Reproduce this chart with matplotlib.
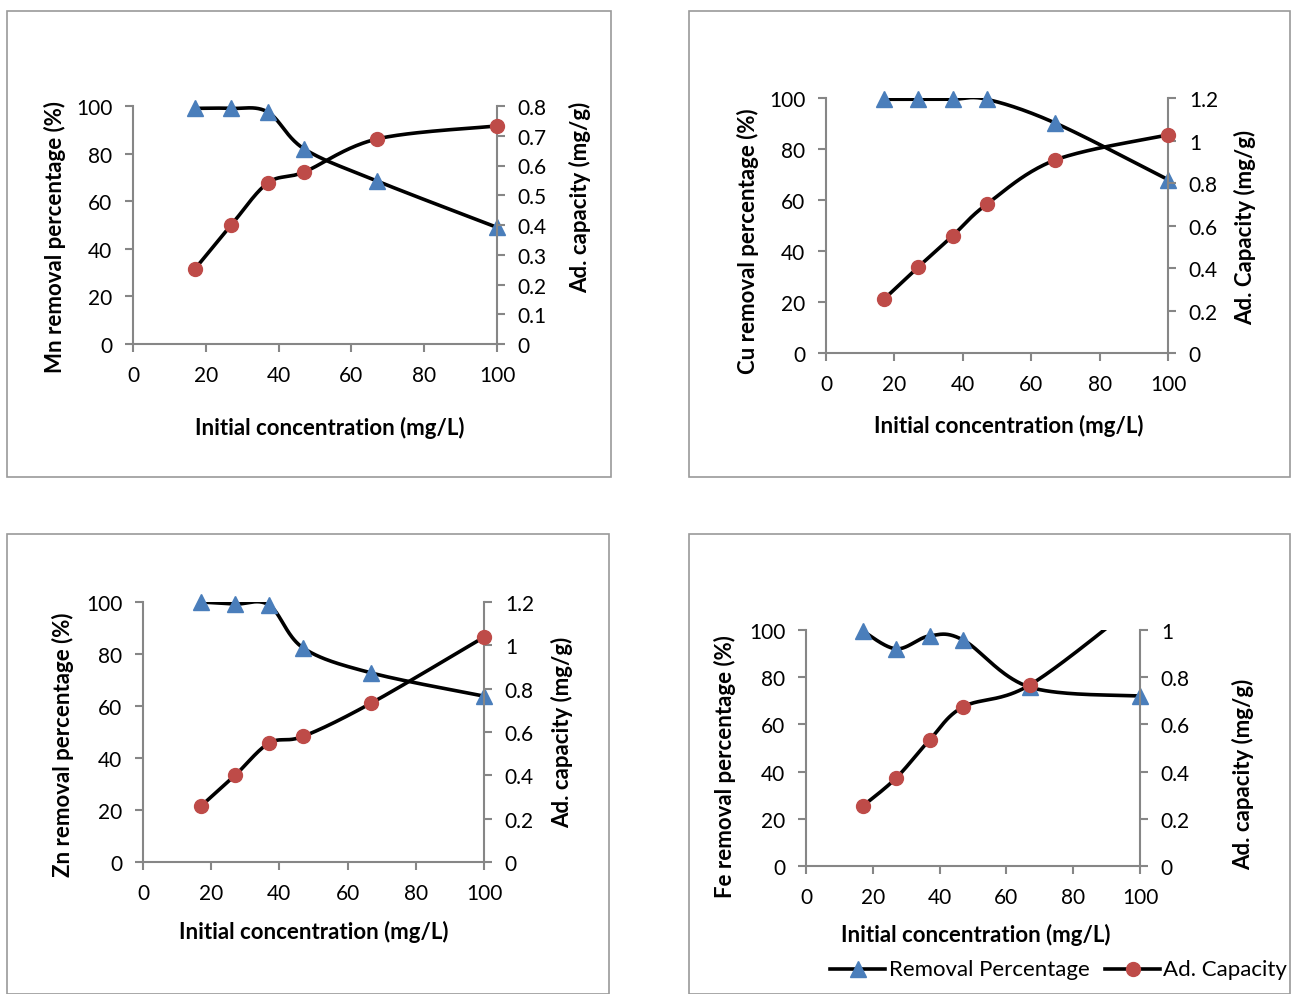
import numpy as np
import matplotlib
matplotlib.use("Agg")
import matplotlib.pyplot as plt
from matplotlib.patches import Rectangle
from matplotlib.lines import Line2D

plt.rcParams['font.family'] = ['Lato', 'DejaVu Sans']

conc = [17, 27, 37, 47, 67, 100]

mn_removal = [99, 99, 97.5, 82, 68.5, 49]
mn_capacity = [0.252, 0.40, 0.541, 0.578, 0.689, 0.733]

cu_removal = [99.5, 99.5, 99.5, 99.5, 90.2, 68]
cu_capacity = [0.254, 0.405, 0.551, 0.70, 0.908, 1.026]

zn_removal = [100, 99.2, 98.8, 82.3, 72.7, 63.8]
zn_capacity = [0.258, 0.40, 0.549, 0.58, 0.734, 1.038]

fe_removal = [99.6, 92, 97.5, 95.8, 75.8, 72]
fe_capacity = [0.254, 0.373, 0.534, 0.674, 0.767, 1.12]

x_ticks = [0, 20, 40, 60, 80, 100]
left_ticks = [0, 20, 40, 60, 80, 100]

x_title = 'Initial concentration (mg/L)'
legend_labels = ['Removal Percentage', 'Ad. Capacity']

BLUE = '#4A7EBB'
RED = '#BE4B48'
GREY = '#868686'
FS_TICK = 15
FS_LAB = 16
W, H = 1291, 995


def smooth(xs, ys, n=40):
    """Excel-like smoothed line (cubic Bezier through points)."""
    P = np.column_stack([xs, ys]).astype(float)
    m = len(P)
    out = []
    for i in range(m - 1):
        p0 = P[i - 1] if i > 0 else P[i]
        p1 = P[i]
        p2 = P[i + 1]
        p3 = P[i + 2] if i + 2 < m else P[i + 1]
        c1 = p1 + (p2 - p0) / 6.0
        c2 = p2 - (p3 - p1) / 6.0
        t = np.linspace(0, 1, n)[:, None]
        seg = ((1 - t) ** 3) * p1 + 3 * ((1 - t) ** 2) * t * c1 + 3 * (1 - t) * t ** 2 * c2 + t ** 3 * p2
        out.append(seg if i == 0 else seg[1:])
    out = np.vstack(out)
    return out[:, 0], out[:, 1]


def fx(px):
    return px / W


def fy(py):
    return 1 - py / H


fig = plt.figure(figsize=(12.91, 9.95), dpi=100)

# panel frames (pixels: x0, y0_top, x1, y1_bottom)
frames = [(7, 12, 611, 478), (689, 12, 1290, 478), (7, 535, 609, 995), (689, 535, 1290, 995)]
for (x0, y0, x1, y1) in frames:
    fig.add_artist(Rectangle((fx(x0), fy(y1)), (x1 - x0) / W, (y1 - y0) / H,
                             transform=fig.transFigure, fill=False, edgecolor='#9a9a9a', lw=1.2))

# axes rects in pixels: x(0), x(100), y top, y bottom
rects = [(133, 497, 107, 345), (826, 1168, 99, 354), (143, 484, 603, 863), (806, 1140, 631, 867)]
# title positions in pixels: ylabel (x, y), y2label (x, y), xlabel (x, y)
title_pos = [((55, 237), (580, 197), (330, 428)),
             ((748, 241), (1245, 227), (1009, 426)),
             ((63, 745), (562, 732), (314, 932)),
             ((725, 767), (1243, 774), (976, 935))]

panels = [
    ('Mn removal percentage (%)', 'Ad. capacity (mg/g)', mn_removal, mn_capacity,
     [0, 0.1, 0.2, 0.3, 0.4, 0.5, 0.6, 0.7, 0.8], 0.8),
    ('Cu removal percentage (%)', 'Ad. Capacity (mg/g)', cu_removal, cu_capacity,
     [0, 0.2, 0.4, 0.6, 0.8, 1.0, 1.2], 1.2),
    ('Zn removal percentage (%)', 'Ad. capacity (mg/g)', zn_removal, zn_capacity,
     [0, 0.2, 0.4, 0.6, 0.8, 1.0, 1.2], 1.2),
    ('Fe removal percentage (%)', 'Ad. capacity (mg/g)', fe_removal, fe_capacity,
     [0, 0.2, 0.4, 0.6, 0.8, 1.0], 1.0),
]

for (lx0, lx1, ty, by), tp, (ylab, y2lab, rem, cap, rticks, rmax) in zip(rects, title_pos, panels):
    ax = fig.add_axes([fx(lx0), fy(by), (lx1 - lx0) / W, (by - ty) / H])
    ax2 = ax.twinx()
    ax.set_xlim(0, 100)
    ax.set_ylim(0, 100)
    ax2.set_ylim(0, rmax)
    ax.set_xticks(x_ticks)
    ax.set_xticklabels([str(v) for v in x_ticks])
    ax.set_yticks(left_ticks)
    ax.set_yticklabels([str(v) for v in left_ticks])
    ax2.set_yticks(rticks)
    ax2.set_yticklabels(['%g' % v for v in rticks])
    for a in (ax, ax2):
        a.spines['top'].set_visible(False)
        for s in ['left', 'right', 'bottom']:
            a.spines[s].set_color(GREY)
            a.spines[s].set_linewidth(1.5)
        a.tick_params(colors=GREY, labelcolor='black', labelsize=FS_TICK, length=6, width=1.5, pad=9)
    ax.spines['right'].set_visible(False)
    ax2.spines['left'].set_visible(False)
    ax2.spines['bottom'].set_visible(False)

    sx, sy = smooth(conc, rem)
    ax.plot(sx, sy, color='black', lw=2.6, zorder=3)
    ax.plot(conc, rem, linestyle='none', marker='^', ms=11, color=BLUE, zorder=4, clip_on=False)
    cx, cy = smooth(conc, cap)
    ax2.plot(cx, cy, color='black', lw=2.6, zorder=3)
    cap_arr = np.array(cap, dtype=float)
    vis = np.where(cap_arr <= rmax, cap_arr, np.nan)
    ax2.plot(conc, vis, linestyle='none', marker='o', ms=10, color=RED, zorder=4, clip_on=False)

    (yx, yy), (y2x, y2y), (xx, xy) = tp
    fig.text(fx(yx), fy(yy), ylab, rotation=90, ha='center', va='center',
             fontsize=FS_LAB, fontweight='bold')
    fig.text(fx(y2x), fy(y2y), y2lab, rotation=90, ha='center', va='center',
             fontsize=FS_LAB, fontweight='bold')
    fig.text(fx(xx), fy(xy), x_title, ha='center', va='center',
             fontsize=FS_LAB, fontweight='bold')

# legend (drawn manually in figure pixel coordinates)
leg_y = 970
leg_items = [((830, 885), 889, '^', 11, BLUE, legend_labels[0]),
             ((1105, 1160), 1163, 'o', 10, RED, legend_labels[1])]
for (lx0, lx1), tx, mk, ms, col, lab in leg_items:
    fig.add_artist(Line2D([fx(lx0), fx(lx1)], [fy(leg_y), fy(leg_y)], transform=fig.transFigure,
                          color='black', lw=2.6))
    fig.add_artist(Line2D([fx((lx0 + lx1) / 2)], [fy(leg_y)], transform=fig.transFigure,
                          marker=mk, ms=ms, color=col, linestyle='none'))
    fig.text(fx(tx), fy(leg_y), lab, ha='left', va='center', fontsize=FS_LAB)

fig.savefig('out.png', dpi=100)
